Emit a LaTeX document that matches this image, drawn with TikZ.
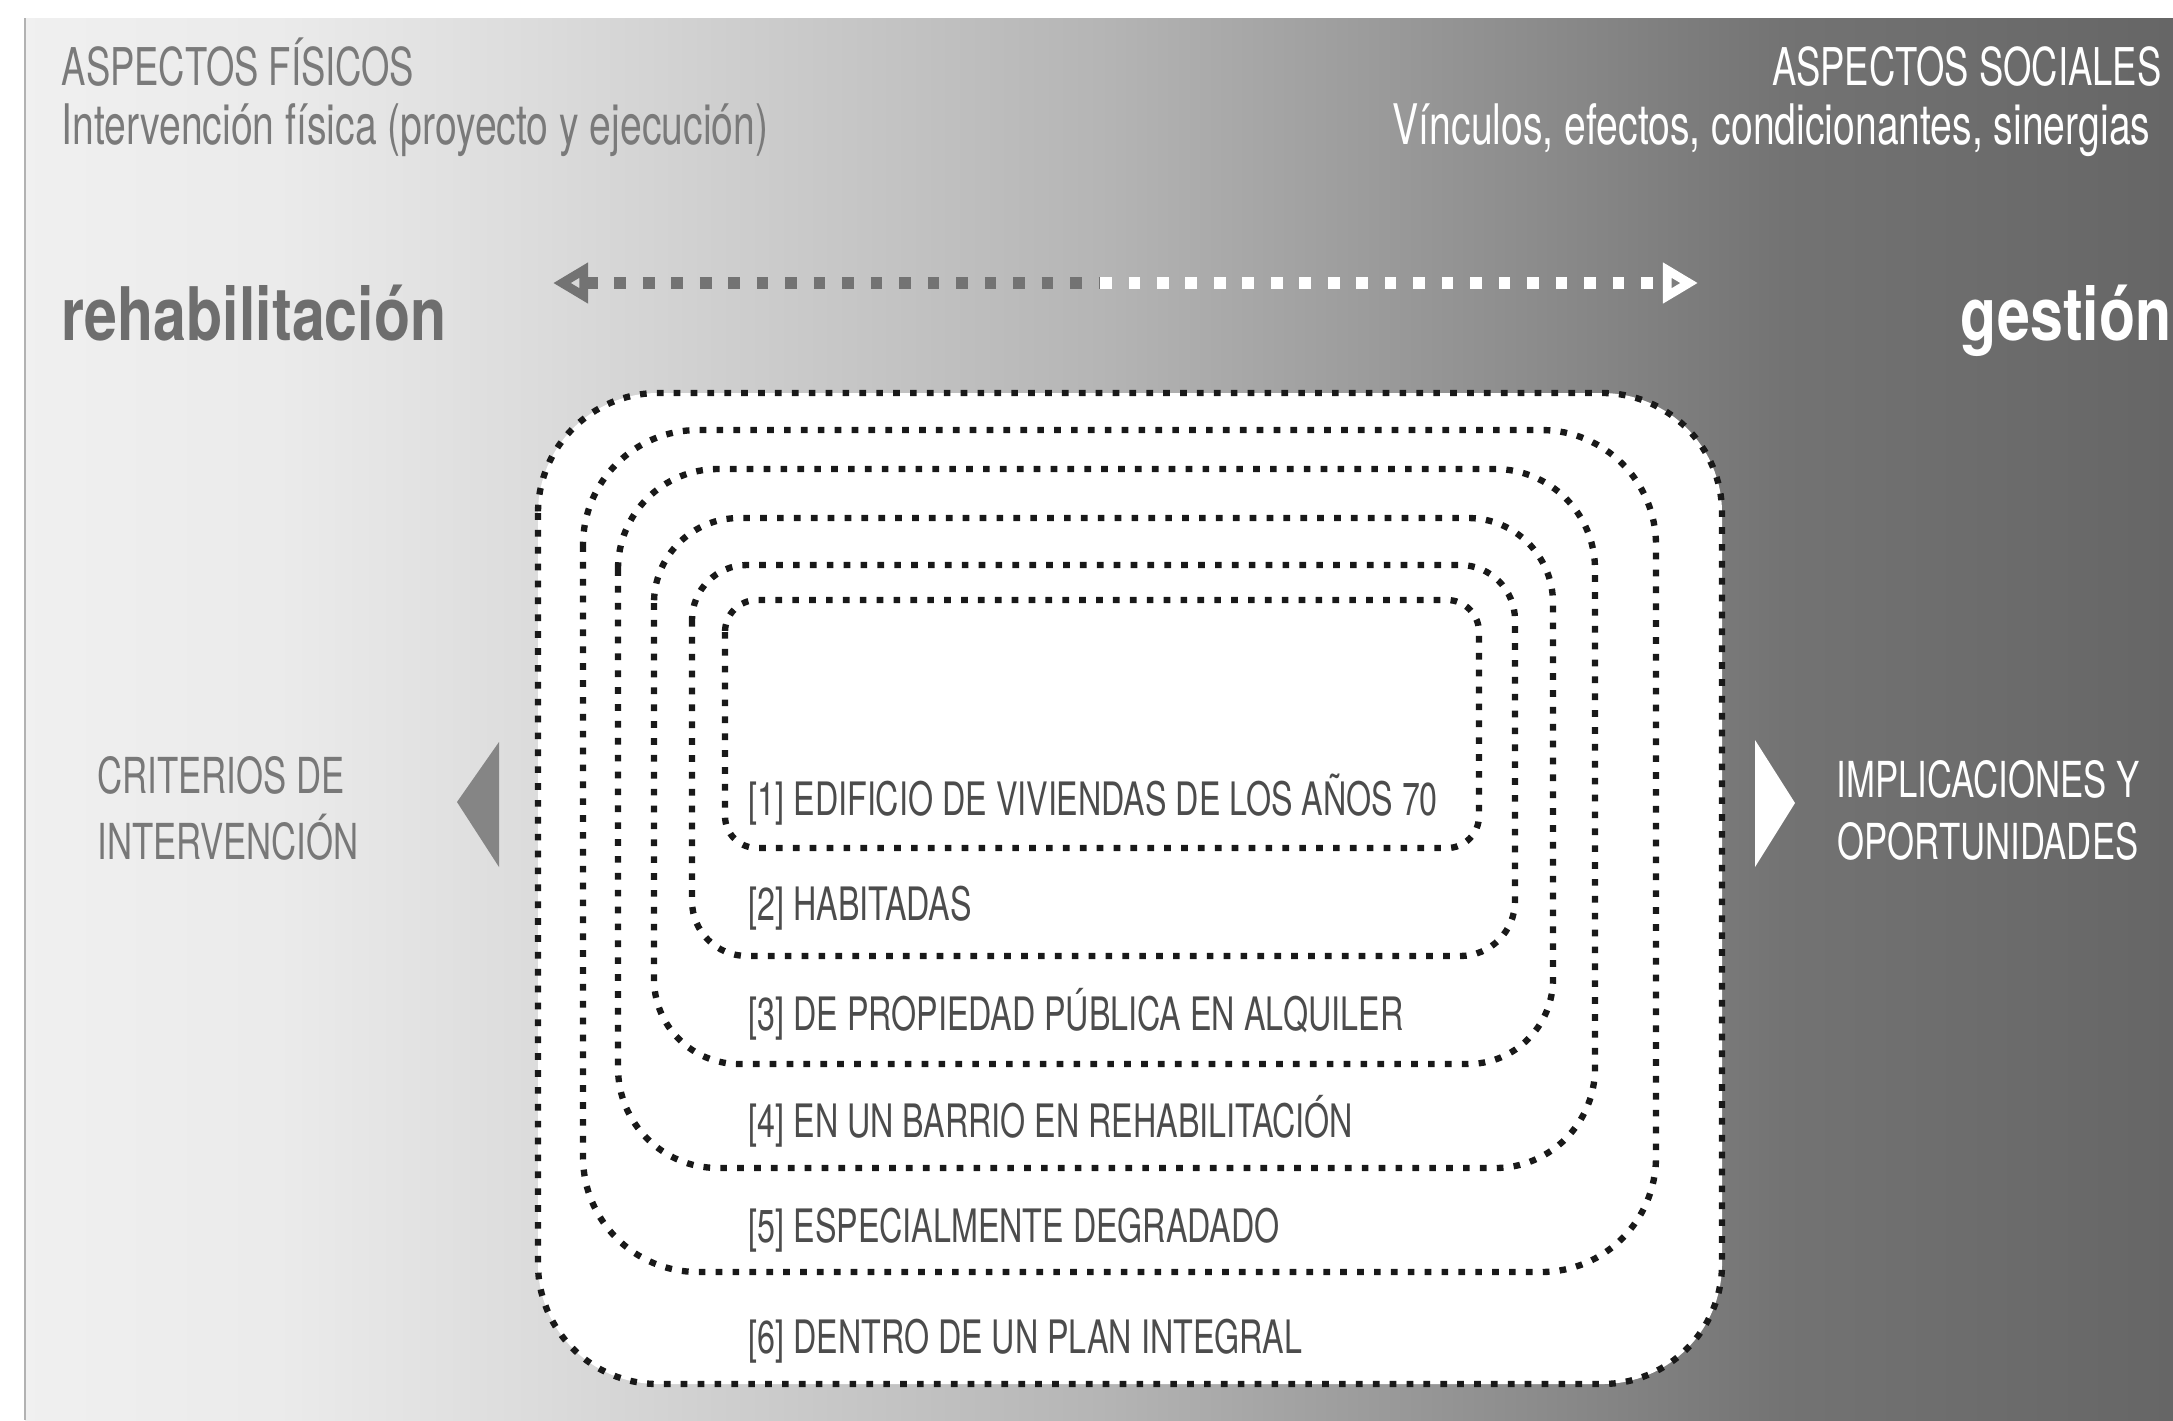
\documentclass[tikz,border=0pt]{standalone}
\usepackage{fontspec}
\setmainfont{TeX Gyre Heros}[FakeStretch=0.7]
\newfontfamily\widefont{TeX Gyre Heros}[FakeStretch=0.8]
\usetikzlibrary{arrows.meta}

% grey fade behind everything, light on the left, dark on the right
\pgfdeclarehorizontalshading{backfade}{100bp}{color(0bp)=(black!6); color(25bp)=(black!6);
  color(31bp)=(black!8); color(37bp)=(black!14); color(43bp)=(black!21); color(50bp)=(black!29);
  color(60bp)=(black!45); color(66bp)=(black!55); color(75bp)=(black!60); color(100bp)=(black!60)}

\tikzset{
  ring/.style={draw=black!90, line width=1.8pt, dash pattern=on 1.9pt off 2.9pt},
  trail/.style={line width=3.4pt, dash pattern=on 3.3pt off 4.8pt},
  lbl/.style={anchor=base west, inner sep=0pt, text=black!70, font=\fontsize{13.1}{15}\selectfont},
  head/.style={inner sep=0pt, font=\fontsize{14.8}{17}\selectfont},
  sub/.style={inner sep=0pt, font=\fontsize{15.9}{18}\selectfont},
  big/.style={anchor=base west, inner sep=0pt, font=\widefont\bfseries\fontsize{21}{24}\selectfont},
  side/.style={inner sep=0pt, font=\fontsize{14.1}{16}\selectfont},
}

\begin{document}
\begin{tikzpicture}[x=0.01cm, y=-0.01cm, line join=round]

    % page and background panel
    \useasboundingbox (0,0) rectangle (2173,1420);
    \clip (0,0) rectangle (2173,1420);
    \shade[shading=backfade] (25,18) rectangle (2173,1420);
    \draw[black!30, line width=0.7pt] (25,18) -- (25,1420);

    % headings left and right
    \node[head, anchor=base west, text=black!52] (fis) at (61,85) {ASPECTOS FÍSICOS};
    \node[sub, anchor=base west, text=black!52] (fissub) at (61,144) {Intervención física (proyecto y ejecución)};
    \node[head, anchor=base east, text=white] (soc) at (2162,85) {ASPECTOS SOCIALES};
    \node[sub, anchor=base east, text=white] (socsub) at (2151,144) {Vínculos, efectos, condicionantes, sinergias};
    \node[big, text=black!57] (rehab) at (61,340) {rehabilitación};
    \node[big, text=white] (gest) at (1960,340) {gestión};

    % dotted double arrow (grey half, white half)
    \coordinate (al) at (553,283);
    \coordinate (am) at (1100,283);
    \coordinate (ar) at (1698,283);
    \draw[trail, black!55, {Triangle[open,length=10pt,width=11pt]}-] (al) -- (am);
    \draw[trail, white, -{Triangle[open,length=10pt,width=11pt]}] (am) -- (ar);

    % nested dotted rings, outermost first
    \fill[white, rounded corners=1.2cm] (538,393) rectangle (1722,1384);
    \draw[ring, rounded corners=1.2cm]  (538,393) rectangle (1722,1384);
    \draw[ring, rounded corners=1.15cm] (583,430) rectangle (1656,1272);
    \draw[ring, rounded corners=1cm]    (618,469) rectangle (1595,1168);
    \draw[ring, rounded corners=0.85cm] (654,518) rectangle (1553,1064);
    \draw[ring, rounded corners=0.55cm] (692,565) rectangle (1515,956);
    \draw[ring, rounded corners=0.32cm] (725,600) rectangle (1479,848);

    % ring labels
    \node[lbl] (c1) at (748,815)  {[1] EDIFICIO DE VIVIENDAS DE LOS AÑOS 70};
    \node[lbl] (c2) at (748,920)  {[2] HABITADAS};
    \node[lbl] (c3) at (748,1030) {[3] DE PROPIEDAD PÚBLICA EN ALQUILER};
    \node[lbl] (c4) at (748,1137) {[4] EN UN BARRIO EN REHABILITACIÓN};
    \node[lbl] (c5) at (748,1242) {[5] ESPECIALMENTE DEGRADADO};
    \node[lbl] (c6) at (748,1353) {[6] DENTRO DE UN PLAN INTEGRAL};

    % side markers and their texts
    \fill[black!48] (457,802) -- (499,742) -- (499,867) -- cycle;
    \fill[white] (1795,803) -- (1755,740) -- (1755,867) -- cycle;
    \node[side, anchor=base west, text=black!53] (crit1) at (97,793) {CRITERIOS DE};
    \node[side, anchor=base west, text=black!53] (crit2) at (97,859) {INTERVENCIÓN};
    \node[side, anchor=base, text=white] (impl1) at (1988,797) {IMPLICACIONES Y};
    \node[side, anchor=base, text=white] (impl2) at (1988,859) {OPORTUNIDADES};

\end{tikzpicture}
\end{document}
